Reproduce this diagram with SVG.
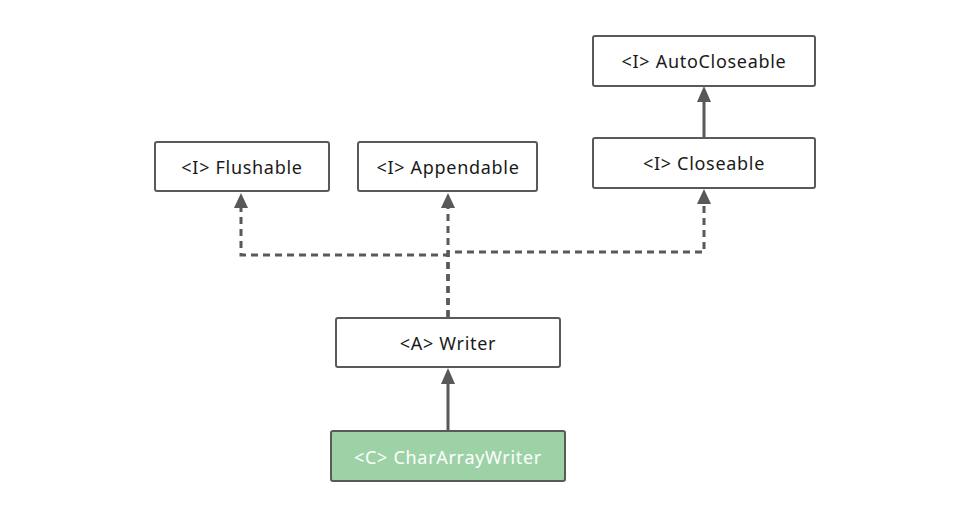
<svg xmlns="http://www.w3.org/2000/svg" width="975" height="514" viewBox="0 0 975 514">
<defs>
<style>
.box{fill:#ffffff;stroke:#595959;stroke-width:2}
.green{fill:#9dd2a6;stroke:#595959;stroke-width:2}
.t{font-family:"Noto Sans","Liberation Sans",sans-serif;font-size:18px;letter-spacing:0.7px;fill:#1a1a1a;text-anchor:middle;dominant-baseline:central}
.tw{fill:#ffffff}
.solid{fill:none;stroke:#595959;stroke-width:3}
.dash{fill:none;stroke:#595959;stroke-width:3;stroke-dasharray:7,5}
.head{fill:#595959}
</style>
</defs>
<rect width="975" height="514" fill="#ffffff"/>
<g id="connectors">
<path class="dash" d="M448,317 V255 H241 V207"/>
<polygon class="head" points="241,193 234,208 248,208"/>
<path class="dash" d="M448,317 V207"/>
<polygon class="head" points="448,193 441,208 455,208"/>
<path class="dash" d="M448,317 V252 H704 V204"/>
<polygon class="head" points="704,189 697,204 711,204"/>
<path class="solid" d="M704,137 V101"/>
<polygon class="head" points="704,86 697,102 711,102"/>
<path class="solid" d="M448,431 V383"/>
<polygon class="head" points="448,368 441,384 455,384"/>
</g>
<g id="flushable">
<rect class="box" x="155" y="142" width="174" height="49" rx="2"/>
<text class="t" x="242" y="167">&lt;I&gt; Flushable</text>
</g>
<g id="appendable">
<rect class="box" x="358" y="142" width="179" height="49" rx="2"/>
<text class="t" x="448" y="167">&lt;I&gt; Appendable</text>
</g>
<g id="autocloseable">
<rect class="box" x="593" y="36" width="222" height="50" rx="2"/>
<text class="t" x="704" y="61">&lt;I&gt; AutoCloseable</text>
</g>
<g id="closeable">
<rect class="box" x="593" y="138" width="222" height="50" rx="2"/>
<text class="t" x="704" y="163">&lt;I&gt; Closeable</text>
</g>
<g id="writer">
<rect class="box" x="336" y="318" width="224" height="49" rx="2"/>
<text class="t" x="448" y="343">&lt;A&gt; Writer</text>
</g>
<g id="chararraywriter">
<rect class="green" x="331" y="431" width="234" height="50" rx="2"/>
<text class="t tw" x="448" y="457">&lt;C&gt; CharArrayWriter</text>
</g>
</svg>
